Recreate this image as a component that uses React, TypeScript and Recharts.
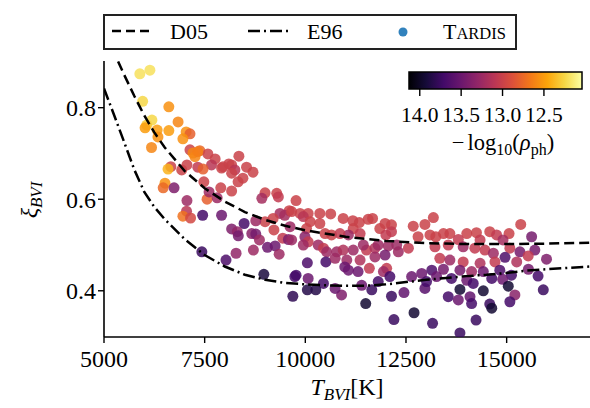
import React from 'react';
import { ScatterChart, Scatter, XAxis, YAxis } from 'recharts';

const SERIF = '"Liberation Serif", "DejaVu Serif", serif';

const xTicks = [5000, 7500, 10000, 12500, 15000];
const yTicks = [0.4, 0.6, 0.8];
const cbarTicks = [14.0, 13.5, 13.0, 12.5];
const cbarRange = [14.13, 12.04]; // -log10(rho_ph) at left / right end of the colorbar

// Dessart & Hillier (2005) dilution factor
const d05T = [5350, 5500, 5750, 6000, 6250, 6500, 7000, 7500, 8000, 8500, 9000, 9500, 10000, 11000, 12000, 13000, 14000, 15000, 16000, 17070];
const d05Xi = [0.901, 0.872, 0.826, 0.783, 0.746, 0.714, 0.662, 0.624, 0.595, 0.572, 0.555, 0.542, 0.532, 0.518, 0.509, 0.504, 0.502, 0.502, 0.503, 0.505];

// Eastman et al. (1996), dash-dot curve
const e96T = [5000, 5250, 5500, 5750, 6000, 6250, 6500, 7000, 7500, 8000, 8500, 9000, 9500, 10000, 10500, 11000, 11500, 12000, 12500, 13000, 13500, 14000, 14500, 15000, 15500, 16000, 16500, 17070];
const e96Xi = [0.842, 0.784, 0.725, 0.665, 0.616, 0.583, 0.557, 0.513, 0.478, 0.453, 0.435, 0.424, 0.417, 0.414, 0.412, 0.411, 0.411, 0.414, 0.419, 0.424, 0.428, 0.432, 0.435, 0.439, 0.444, 0.447, 0.450, 0.453];

// TARDIS models: [T_BVI, xi_BVI, -log10(rho_ph)]
const tardis: [number, number, number][] = [
  [5890, 0.874, 12.2], [6140, 0.882, 12.2], [5960, 0.814, 12.25], [6610, 0.802, 12.55], [6190, 0.773, 12.25],
  [6060, 0.762, 12.3], [6020, 0.756, 12.5], [6320, 0.751, 12.5], [6610, 0.75, 12.5], [6840, 0.769, 12.6],
  [6340, 0.736, 12.55], [7040, 0.747, 12.55], [7135, 0.743, 12.8], [6960, 0.732, 12.55], [6180, 0.713, 12.6],
  [7135, 0.708, 13.0], [7380, 0.706, 12.75], [7260, 0.693, 12.6], [7580, 0.699, 13.0], [7760, 0.688, 13.0],
  [8350, 0.694, 13.0], [8100, 0.677, 13.0], [7670, 0.675, 13.1], [7060, 0.675, 13.0], [7330, 0.67, 13.05],
  [8540, 0.67, 13.0], [6660, 0.671, 13.0], [6590, 0.666, 12.4], [6515, 0.635, 12.55], [6470, 0.625, 12.75],
  [6740, 0.625, 13.4], [6930, 0.664, 13.0], [7460, 0.666, 12.8], [7060, 0.597, 13.25], [7560, 0.6, 12.8],
  [7050, 0.574, 13.1], [6960, 0.563, 12.7], [7150, 0.559, 12.95], [7450, 0.565, 13.7], [7920, 0.565, 13.5],
  [7480, 0.638, 13.0], [7610, 0.616, 13.25], [7810, 0.603, 13.25], [7900, 0.625, 13.0], [8170, 0.618, 13.0],
  [7920, 0.668, 13.0], [8170, 0.675, 13.0], [8250, 0.664, 13.1], [8700, 0.659, 13.0], [8330, 0.638, 13.0],
  [8450, 0.646, 13.0], [7430, 0.485, 13.75], [7210, 0.701, 12.6], [7330, 0.704, 12.65], [7955, 0.671, 13.0],
  [8170, 0.657, 13.0], [9000, 0.614, 13.0], [8920, 0.602, 13.2], [9290, 0.613, 13.0], [9330, 0.605, 13.05],
  [9770, 0.597, 13.0], [9600, 0.575, 13.0], [9370, 0.569, 13.2], [9490, 0.565, 13.2], [9200, 0.558, 13.0],
  [9000, 0.551, 13.0], [8770, 0.553, 13.25], [8480, 0.547, 13.7], [8170, 0.535, 13.4], [8310, 0.529, 13.3],
  [8335, 0.52, 13.45], [8670, 0.525, 13.35], [8770, 0.524, 13.45], [8860, 0.511, 13.25], [9220, 0.533, 13.0],
  [9440, 0.515, 13.05], [9580, 0.512, 13.4], [9060, 0.495, 13.5], [9250, 0.498, 13.5], [9350, 0.48, 13.25],
  [8710, 0.489, 13.25], [8280, 0.482, 13.3], [8030, 0.467, 13.65], [8970, 0.436, 13.9], [9770, 0.434, 13.7],
  [9690, 0.388, 13.8], [9660, 0.573, 13.0], [9870, 0.569, 13.0], [10070, 0.569, 13.0], [10360, 0.569, 13.0],
  [10630, 0.568, 13.0], [9950, 0.562, 13.1], [10120, 0.551, 13.0], [10030, 0.536, 13.0], [9620, 0.54, 13.25],
  [9660, 0.511, 13.25], [9990, 0.518, 13.35], [10070, 0.507, 13.05], [10360, 0.547, 13.0], [10490, 0.525, 13.0],
  [10650, 0.522, 13.0], [10940, 0.558, 13.0], [11180, 0.553, 13.0], [11340, 0.549, 13.0], [11560, 0.556, 13.0],
  [11670, 0.558, 13.0], [11190, 0.536, 13.0], [11360, 0.525, 13.05], [11070, 0.522, 13.25], [10860, 0.525, 13.05],
  [11850, 0.536, 13.0], [11980, 0.547, 13.0], [12140, 0.544, 13.0], [12140, 0.529, 13.05], [12000, 0.522, 13.05],
  [12680, 0.541, 13.0], [12970, 0.545, 13.0], [13180, 0.56, 13.0], [12800, 0.518, 13.0], [13095, 0.522, 13.0],
  [9950, 0.5, 13.25], [10320, 0.5, 13.25], [10450, 0.493, 13.05], [10530, 0.485, 13.25], [10780, 0.485, 13.25],
  [10940, 0.489, 13.15], [11190, 0.489, 13.25], [11520, 0.489, 13.05], [11730, 0.493, 13.15], [11440, 0.5, 13.25],
  [11810, 0.5, 13.25], [12060, 0.498, 13.25], [12270, 0.5, 13.25], [12560, 0.493, 13.05], [12310, 0.485, 13.25],
  [11980, 0.478, 13.45], [10050, 0.461, 13.65], [10510, 0.463, 13.7], [10740, 0.471, 13.25], [11030, 0.467, 13.25],
  [10980, 0.452, 13.5], [11070, 0.445, 13.5], [11360, 0.467, 13.15], [11310, 0.442, 13.5], [11590, 0.449, 13.05],
  [11730, 0.474, 13.25], [12020, 0.449, 13.05], [11940, 0.442, 13.25], [12100, 0.431, 13.7], [11810, 0.42, 13.7],
  [11650, 0.402, 13.75], [11500, 0.372, 13.95], [11400, 0.412, 13.5], [10900, 0.391, 13.4], [10740, 0.405, 13.5],
  [10450, 0.416, 13.7], [10050, 0.402, 13.85], [10260, 0.402, 13.85], [10070, 0.427, 13.5], [9740, 0.431, 13.7],
  [12140, 0.388, 13.75], [12450, 0.396, 13.55], [12640, 0.431, 13.5], [12890, 0.438, 13.5], [12970, 0.405, 13.6],
  [13010, 0.42, 13.7], [13140, 0.445, 13.65], [13260, 0.431, 13.5], [12200, 0.337, 13.75], [12700, 0.352, 13.95],
  [13160, 0.329, 13.75], [15350, 0.545, 13.0], [14580, 0.529, 13.0], [14750, 0.522, 13.05], [15060, 0.525, 13.0],
  [15620, 0.518, 13.45], [14010, 0.525, 13.0], [14250, 0.527, 13.0], [13590, 0.525, 13.0], [13430, 0.525, 13.0],
  [13800, 0.512, 13.05], [14340, 0.511, 13.05], [14910, 0.511, 13.2], [13240, 0.518, 13.0], [13220, 0.496, 13.05],
  [13550, 0.5, 13.05], [13920, 0.496, 13.25], [14210, 0.493, 13.05], [14460, 0.489, 13.05], [14670, 0.482, 13.25],
  [15080, 0.493, 13.05], [15330, 0.485, 13.45], [15700, 0.489, 13.45], [15535, 0.476, 13.05], [15990, 0.469, 13.4],
  [15250, 0.463, 13.15], [14960, 0.473, 13.65], [13340, 0.471, 13.05], [13590, 0.467, 13.25], [13920, 0.463, 13.05],
  [14340, 0.46, 13.15], [14710, 0.463, 13.05], [13430, 0.447, 13.45], [13840, 0.445, 13.45], [14130, 0.442, 13.25],
  [14420, 0.442, 13.5], [14830, 0.445, 13.65], [15120, 0.434, 13.7], [15540, 0.447, 13.45], [15780, 0.432, 13.7],
  [13630, 0.427, 13.7], [14010, 0.423, 13.5], [14170, 0.416, 13.7], [14630, 0.427, 13.7], [14900, 0.425, 13.5],
  [15040, 0.41, 13.95], [13840, 0.403, 13.95], [14420, 0.4, 13.95], [13550, 0.387, 13.7], [14090, 0.387, 13.55],
  [13800, 0.38, 13.5], [15205, 0.391, 13.35], [15910, 0.402, 13.75], [14580, 0.371, 13.75], [14630, 0.362, 13.95],
  [15080, 0.376, 13.7], [14130, 0.372, 13.7], [14240, 0.336, 13.75], [13840, 0.308, 13.75],
];

// inferno colormap stops
const inferno = ['#000004', '#160b39', '#420a68', '#6a176e', '#932667', '#bc3754', '#dd513a', '#f37819', '#fca50a', '#f6d746', '#fcffa4'];

function hex(c: string) {
  return [1, 3, 5].map((i) => parseInt(c.slice(i, i + 2), 16));
}

function cmap(rho: number) {
  let t = (cbarRange[0] - rho) / (cbarRange[0] - cbarRange[1]);
  t = Math.max(0, Math.min(1, t));
  const p = t * (inferno.length - 1);
  const i = Math.min(Math.floor(p), inferno.length - 2);
  const f = p - i;
  const a = hex(inferno[i]);
  const b = hex(inferno[i + 1]);
  const m = a.map((v, k) => Math.round(v + (b[k] - v) * f));
  return `rgb(${m[0]},${m[1]},${m[2]})`;
}

const points = tardis.map(([T, xi, rho]) => ({ T, xi, rho }));
const d05 = d05T.map((T, i) => ({ T, xi: d05Xi[i] }));
const e96 = e96T.map((T, i) => ({ T, xi: e96Xi[i] }));

const Dot = (props: any) => (
  <circle cx={props.cx} cy={props.cy} r={5.5} fill={cmap(props.payload.rho)} fillOpacity={0.85} />
);
const NoDot = () => <g />;

const Overlay = () => {
  const cbL = 409, cbR = 582, cbT = 72, cbB = 89;
  const cbX = (v: number) => cbL + ((cbarRange[0] - v) / (cbarRange[0] - cbarRange[1])) * (cbR - cbL);
  return (
    <svg width={590} height={408} style={{ position: 'absolute', left: 0, top: 0, pointerEvents: 'none' }} fontFamily={SERIF}>
      <defs>
        <linearGradient id="inf" x1="0" y1="0" x2="1" y2="0">
          {inferno.map((c, i) => (
            <stop key={i} offset={i / (inferno.length - 1)} stopColor={c} />
          ))}
        </linearGradient>
      </defs>
      {/* legend */}
      <rect x={104} y={15} width={412} height={34} fill="#fff" stroke="#222" strokeWidth={2} />
      <line x1={112} y1={31} x2={152} y2={31} stroke="#000" strokeWidth={2.5} strokeDasharray="9 5" />
      <text x={170} y={39} fontSize={22}>D05</text>
      <line x1={248} y1={31} x2={290} y2={31} stroke="#000" strokeWidth={2.5} strokeDasharray="12 4 2 4" />
      <text x={307} y={39} fontSize={22}>E96</text>
      <circle cx={403} cy={32} r={4.5} fill="#3182bd" />
      <text x={443} y={39} fontSize={22}>
        T<tspan fontSize={16.5}>ARDIS</tspan>
      </text>
      {/* colorbar */}
      <rect x={cbL} y={cbT} width={cbR - cbL} height={cbB - cbT} fill="url(#inf)" stroke="#000" strokeWidth={1.5} />
      {cbarTicks.map((v) => (
        <g key={v}>
          <line x1={cbX(v)} y1={cbB} x2={cbX(v)} y2={cbB + 7} stroke="#000" strokeWidth={1.4} />
          <text x={cbX(v)} y={122} fontSize={21.5} textAnchor="middle">{v.toFixed(1)}</text>
        </g>
      ))}
      <text x={503} y={150} fontSize={22.5} textAnchor="middle">
        −<tspan dx={3}>log</tspan><tspan fontSize={16} dy={5}>10</tspan><tspan dy={-5}>(</tspan><tspan fontStyle="italic">ρ</tspan>
        <tspan fontSize={16} dy={5}>ph</tspan><tspan dy={-5}>)</tspan>
      </text>
      {/* axis labels */}
      <text x={347} y={395} fontSize={24} textAnchor="middle">
        <tspan fontStyle="italic">T</tspan><tspan fontStyle="italic" fontSize={17} dy={5}>BVI</tspan><tspan dy={-5}>[K]</tspan>
      </text>
      <text transform="translate(37,200) rotate(-90)" fontSize={24} textAnchor="middle">
        <tspan fontStyle="italic">ξ</tspan><tspan fontStyle="italic" fontSize={17} dy={5}>BVI</tspan>
      </text>
    </svg>
  );
};

export default function App() {
  return (
    <div style={{ position: 'absolute', left: 0, top: 0, width: 590, height: 408, background: '#fff' }}>
      <ScatterChart width={590} height={408} margin={{ top: 61, right: 0, bottom: 31, left: 44 }}>
        <XAxis
          type="number"
          dataKey="T"
          domain={[5000, 17070]}
          ticks={xTicks}
          allowDataOverflow
          height={40}
          tickSize={6}
          tickMargin={7}
          axisLine={{ stroke: '#000', strokeWidth: 1.6 }}
          tickLine={{ stroke: '#000', strokeWidth: 1.4 }}
          tick={{ fill: '#000', fontSize: 24, fontFamily: SERIF }}
        />
        <XAxis
          xAxisId="top"
          orientation="top"
          type="number"
          domain={[5000, 17070]}
          height={0}
          tick={false}
          tickLine={false}
          axisLine={{ stroke: '#000', strokeWidth: 1.6 }}
        />
        <YAxis
          type="number"
          dataKey="xi"
          domain={[0.299, 0.902]}
          ticks={yTicks}
          allowDataOverflow
          width={60}
          tickSize={6}
          tickMargin={2}
          tickFormatter={(v: number) => v.toFixed(1)}
          axisLine={{ stroke: '#000', strokeWidth: 1.6 }}
          tickLine={{ stroke: '#000', strokeWidth: 1.4 }}
          tick={{ fill: '#000', fontSize: 24, fontFamily: SERIF }}
        />
        <Scatter data={points} shape={Dot} isAnimationActive={false} />
        <Scatter
          data={d05}
          shape={NoDot}
          line={{ stroke: '#000', strokeWidth: 2.5, strokeDasharray: '10 5', fill: 'none' }}
          lineType="joint"
          isAnimationActive={false}
        />
        <Scatter
          data={e96}
          shape={NoDot}
          line={{ stroke: '#000', strokeWidth: 2.5, strokeDasharray: '12 4 2 4', fill: 'none' }}
          lineType="joint"
          isAnimationActive={false}
        />
      </ScatterChart>
      <Overlay />
    </div>
  );
}
